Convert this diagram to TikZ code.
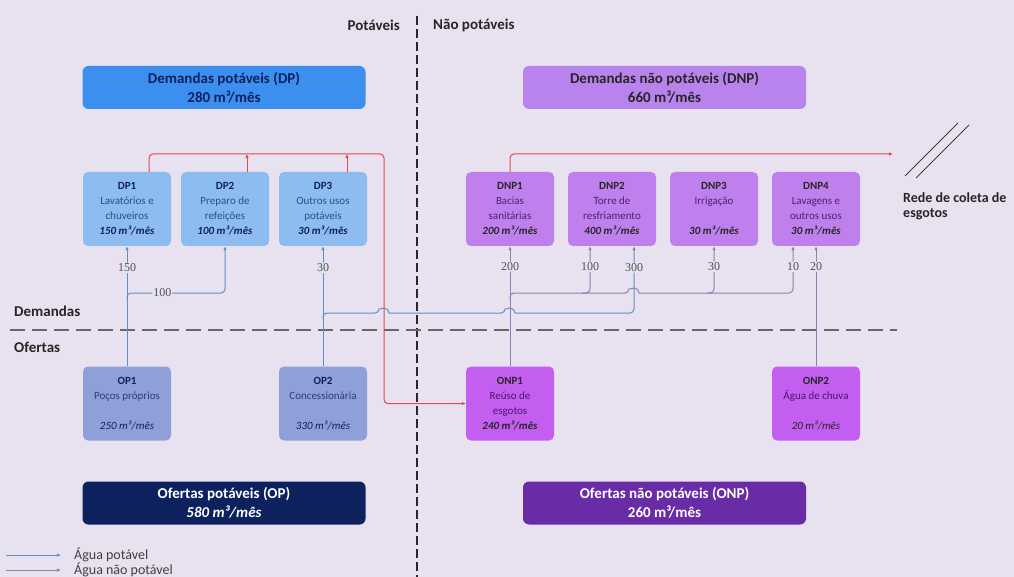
\documentclass[tikz,border=0pt]{standalone}
\usepackage{fontspec}
\setmainfont{Carlito}
\newfontfamily\numfont{Liberation Serif}
\usetikzlibrary{arrows.meta}
\definecolor{bg}{HTML}{E8E1EF}
\definecolor{dpbig}{HTML}{3D8FEF}
\definecolor{dnpbig}{HTML}{B983EE}
\definecolor{dpsmall}{HTML}{8DBCF0}
\definecolor{dnpsmall}{HTML}{BF80EE}
\definecolor{opsmall}{HTML}{8FA0D9}
\definecolor{onpsmall}{HTML}{C35EF0}
\definecolor{opbig}{HTML}{0D215F}
\definecolor{onpbig}{HTML}{6A2CA6}
\definecolor{dptext}{HTML}{2D4F80}
\definecolor{dnptext}{HTML}{4B2368}
\definecolor{optext}{HTML}{2C3C74}
\definecolor{onptext}{HTML}{4A1566}
\definecolor{potline}{HTML}{5F8FC2}
\definecolor{npotline}{HTML}{8C7FB2}
\definecolor{esgline}{HTML}{E04B4B}
\definecolor{numgray}{HTML}{505050}

\begin{document}
\begin{tikzpicture}[x=1pt,y=1pt]
            \tikzstyle{every node}+=[inner sep=0pt]
            \tikzstyle{bigbox}=[rounded corners=6pt, minimum width=283pt, minimum height=43pt, align=center, font=\fontsize{15}{19}\selectfont\bfseries]
            \tikzstyle{smallbox}=[rounded corners=5pt, minimum width=88pt, minimum height=74pt, align=center, font=\fontsize{11}{15}\selectfont]
            \tikzstyle{num}=[fill=bg, inner sep=1pt, font=\numfont\fontsize{12}{12}\selectfont, text=numgray]
            \tikzstyle{head}=[font=\fontsize{15}{17}\selectfont\bfseries, text=black!85]
            \tikzstyle{pot}=[draw=potline, line width=1pt, rounded corners=4pt]
            \tikzstyle{npot}=[draw=npotline, line width=1pt, rounded corners=4pt]
            \tikzstyle{esg}=[draw=esgline, line width=1pt, rounded corners=4pt]
            \tikzstyle{tip}=[-{Latex[length=4pt,width=3.5pt]}]
            \fill [bg] (0,0) rectangle (1014,-577);
            \useasboundingbox (0,0) rectangle (1014,-577);
            \draw [black!85, line width=1.6pt, dash pattern=on 9pt off 4pt] (417,-16) -- (417,-577);
            \draw [black!60, line width=2.4pt, dash pattern=on 15pt off 7pt] (10,-330) -- (897,-330);
            \node [head, anchor=east] (hpot) at (400,-25) {Potáveis};
            \node [head, anchor=west] (hnpot) at (433,-25) {Não potáveis};
            \node [head, anchor=west] (hdem) at (14,-311) {Demandas};
            \node [head, anchor=west] (hofe) at (14,-347) {Ofertas};
            \node [bigbox, fill=dpbig, text=opbig] (DP) at (224,-87.5) {Demandas potáveis (DP)\\280 m³/mês};
            \node [bigbox, fill=dnpbig, text=black!85] (DNP) at (664.5,-87.5) {Demandas não potáveis (DNP)\\660 m³/mês};
            \node [bigbox, fill=opbig, text=white] (OP) at (224,-503) {Ofertas potáveis (OP)\\\textit{580 m³/mês}};
            \node [bigbox, fill=onpbig, text=white] (ONP) at (664.5,-503) {Ofertas não potáveis (ONP)\\260 m³/mês};
            \node [smallbox, fill=dpsmall, text=dptext] (DP1) at (127,-209) {\textbf{\color{opbig}DP1}\\Lavatórios e\\chuveiros\\\textbf{\textit{\color{opbig}150 m³/mês}}};
            \node [smallbox, fill=dpsmall, text=dptext] (DP2) at (225,-209) {\textbf{\color{opbig}DP2}\\Preparo de\\refeições\\\textbf{\textit{\color{opbig}100 m³/mês}}};
            \node [smallbox, fill=dpsmall, text=dptext] (DP3) at (323,-209) {\textbf{\color{opbig}DP3}\\Outros usos\\potáveis\\\textbf{\textit{\color{opbig}30 m³/mês}}};
            \node [smallbox, fill=dnpsmall, text=dnptext] (DNP1) at (510,-209) {\textbf{\color{black!85}DNP1}\\Bacias\\sanitárias\\\textbf{\textit{\color{black!85}200 m³/mês}}};
            \node [smallbox, fill=dnpsmall, text=dnptext] (DNP2) at (612,-209) {\textbf{\color{black!85}DNP2}\\Torre de\\resfriamento\\\textbf{\textit{\color{black!85}400 m³/mês}}};
            \node [smallbox, fill=dnpsmall, text=dnptext] (DNP3) at (714,-209) {\textbf{\color{black!85}DNP3}\\Irrigação\\~\\\textbf{\textit{\color{black!85}30 m³/mês}}};
            \node [smallbox, fill=dnpsmall, text=dnptext] (DNP4) at (816,-209) {\textbf{\color{black!85}DNP4}\\Lavagens e\\outros usos\\\textbf{\textit{\color{black!85}30 m³/mês}}};
            \node [smallbox, fill=opsmall, text=optext] (OP1) at (127,-403.5) {\textbf{\color{opbig}OP1}\\Poços próprios\\~\\\textit{\color{opbig}250 m³/mês}};
            \node [smallbox, fill=opsmall, text=optext] (OP2) at (323,-403.5) {\textbf{\color{opbig}OP2}\\Concessionária\\~\\\textit{\color{opbig}330 m³/mês}};
            \node [smallbox, fill=onpsmall, text=onptext] (ONP1) at (510,-403.5) {\textbf{\color{black!85}ONP1}\\Reúso de\\esgotos\\\textbf{\textit{\color{black!85}240 m³/mês}}};
            \node [smallbox, fill=onpsmall, text=onptext] (ONP2) at (816,-403.5) {\textbf{\color{black!85}ONP2}\\Água de chuva\\~\\\textit{\color{black!85}20 m³/mês}};
            \coordinate (rcorner) at (384,-154);
            \coordinate (rede) at (893,-154);
            \coordinate (b1) at (127,-299);
            \coordinate (b2) at (323,-319);
            \coordinate (p1) at (510,-299);
            \coordinate (p2) at (582,-293);
            \coordinate (p3) at (707,-293);
            \draw [esg, tip] ([xshift=22pt]DP1.north) |- (rcorner) |- (ONP1.west);
            \draw [esg, tip] ([xshift=22pt]DP2.north) -- ++(0,18);
            \draw [esg, tip] ([xshift=24pt]DP3.north) -- ++(0,18);
            \draw [esg, tip] (DNP1.north) |- (rede);
            \draw [black!75, line width=0.8pt] (905,-176) -- (958,-123);
            \draw [black!75, line width=0.8pt] (916,-178) -- (969,-125);
            \node [font=\fontsize{14}{15}\selectfont\bfseries, text=black!85, align=left, anchor=north west] (redetxt) at (903,-192) {Rede de coleta de\\esgotos};
            \draw [pot, tip] (OP1.north) -- node [num, pos=0.82] {150} (DP1.south);
            \draw [pot, tip] (b1) -- ++(0,6) -| node [num, pos=0.18] {100} (DP2.south);
            \draw [pot, tip] (OP2.north) -- node [num, pos=0.82] {30} (DP3.south);
            \draw [pot, tip] (b2) -- ++(0,6) -- (379,-313) [sharp corners] arc (180:0:5) [rounded corners=4pt] -- (505,-313) [sharp corners] arc (180:0:5) [rounded corners=4pt] -| node [num, pos=0.84] {300} ([xshift=22pt]DNP2.south);
            \draw [npot, tip] (ONP1.north) -- node [num, pos=0.83] {200} (DNP1.south);
            \draw [npot, tip] (p1) -- ++(0,6) -- (629,-293) [sharp corners] arc (180:0:5) [rounded corners=4pt] -| node [num, pos=0.78] {10} ([xshift=-23pt]DNP4.south);
            \draw [npot, tip] (p2) -| node [num, pos=0.78] {100} ([xshift=-22pt]DNP2.south);
            \draw [npot, tip] (p3) -| node [num, pos=0.78] {30} (DNP3.south);
            \draw [npot, tip] (ONP2.north) -- node [num, pos=0.83] {20} (DNP4.south);
            \coordinate (l1a) at (6,-555);
            \coordinate (l1b) at (61,-555);
            \coordinate (l2a) at (6,-570);
            \coordinate (l2b) at (61,-570);
            \draw [pot, tip] (l1a) -- (l1b);
            \draw [npot, tip] (l2a) -- (l2b);
            \node [font=\fontsize{14}{15}\selectfont, text=black!75, anchor=west] (leg1) at (74,-555) {Água potável};
            \node [font=\fontsize{14}{15}\selectfont, text=black!75, anchor=west] (leg2) at (74,-570) {Água não potável};
\end{tikzpicture}
\end{document}
